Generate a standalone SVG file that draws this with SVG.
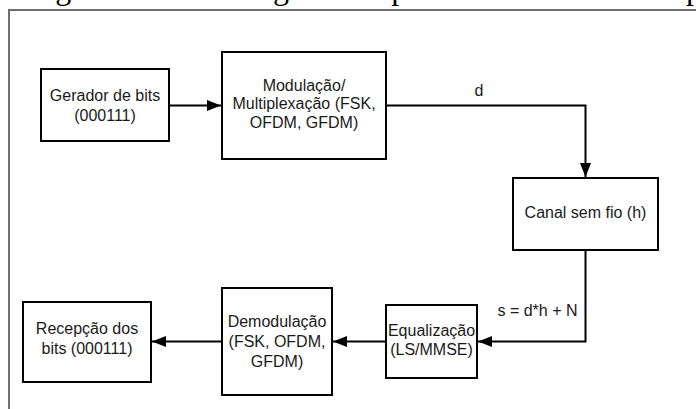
<svg xmlns="http://www.w3.org/2000/svg" width="696" height="409" viewBox="0 0 696 409">
  <style>
    .box { fill: #ffffff; stroke: #000000; stroke-width: 2; }
    .lbl { font-family: "Liberation Sans", Arial, sans-serif; font-size: 16px; fill: #1a1a1a; text-anchor: middle; }
    .edge { fill: none; stroke: #000000; stroke-width: 2; }
    .cap { font-family: "Liberation Serif", "Times New Roman", serif; font-size: 32px; fill: #000000; }
    .frame { fill: none; stroke: #6e6e6e; stroke-width: 2; }
  </style>
  <defs>
    <marker id="arrow" viewBox="0 0 14 11" refX="14" refY="5.5" markerWidth="14" markerHeight="11" markerUnits="userSpaceOnUse" orient="auto">
      <path d="M0,0 L14,5.5 L0,11 Z" fill="#000000"/>
    </marker>
  </defs>
  <rect x="0" y="0" width="696" height="409" fill="#ffffff"/>
  <text class="cap" y="-1.2"><tspan x="9">Diagrama de blocos</tspan><tspan x="273">genérico para um</tspan><tspan x="543">sistema</tspan><tspan x="686">proposto</tspan></text>
  <path class="frame" d="M9,409 V10 H696"/>

  <g id="connectors">
    <path class="edge" d="M169,105.5 H221" marker-end="url(#arrow)"/>
    <path class="edge" d="M386,105.5 H585.5 V177" marker-end="url(#arrow)"/>
    <text class="lbl" x="479" y="96">d</text>
    <path class="edge" d="M585.5,250 V341.5 H478" marker-end="url(#arrow)"/>
    <text class="lbl" x="537.5" y="316">s = d*h + N</text>
    <path class="edge" d="M386,341.5 H333" marker-end="url(#arrow)"/>
    <path class="edge" d="M222,341.5 H152" marker-end="url(#arrow)"/>
  </g>

  <g id="gerador">
    <rect class="box" x="41" y="69" width="128" height="72"/>
    <text class="lbl" x="105" y="101">Gerador de bits</text>
    <text class="lbl" x="105" y="121">(000111)</text>
  </g>
  <g id="modulacao">
    <rect class="box" x="222" y="52" width="164" height="107"/>
    <text class="lbl" x="304" y="90.5">Modulação/</text>
    <text class="lbl" x="304" y="109">Multiplexação (FSK,</text>
    <text class="lbl" x="304" y="127.5">OFDM, GFDM)</text>
  </g>
  <g id="canal">
    <rect class="box" x="513" y="178" width="145" height="72"/>
    <text class="lbl" x="585.5" y="218">Canal sem fio (h)</text>
  </g>
  <g id="equalizacao">
    <rect class="box" x="386" y="305" width="91" height="73"/>
    <text class="lbl" x="431.5" y="335.5">Equalização</text>
    <text class="lbl" x="431.5" y="355">(LS/MMSE)</text>
  </g>
  <g id="demodulacao">
    <rect class="box" x="222" y="288" width="110" height="107"/>
    <text class="lbl" x="277" y="327">Demodulação</text>
    <text class="lbl" x="277" y="347">(FSK, OFDM,</text>
    <text class="lbl" x="277" y="367">GFDM)</text>
  </g>
  <g id="recepcao">
    <rect class="box" x="23" y="302" width="128" height="80"/>
    <text class="lbl" x="87" y="334">Recepção dos</text>
    <text class="lbl" x="87" y="354">bits (000111)</text>
  </g>
</svg>
